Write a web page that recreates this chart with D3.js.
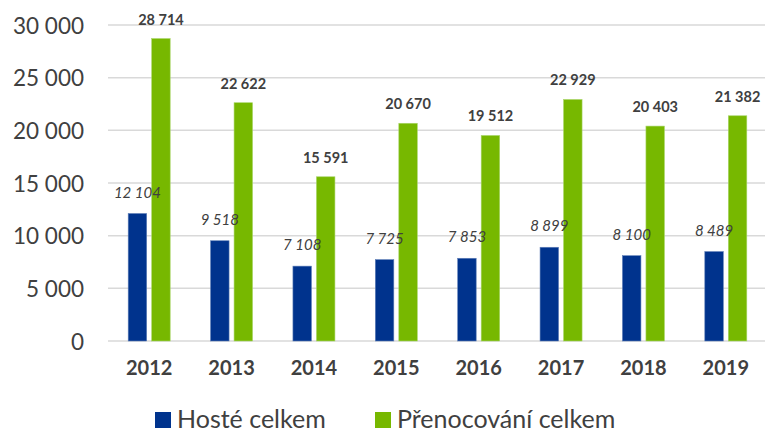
<!DOCTYPE html>
<html><head><meta charset="utf-8">
<script src="https://cdn.jsdelivr.net/npm/d3@7"></script>
<style>
body{margin:0;background:#fff;}
svg{display:block;font-family:Lato, "Open Sans", sans-serif;}
</style></head><body>
<svg id="c" width="765" height="433"></svg>
<script>
const years = ["2012","2013","2014","2015","2016","2017","2018","2019"];
const hoste = [12104, 9518, 7108, 7725, 7853, 8899, 8100, 8489];
const prenoc = [28714, 22622, 15591, 20670, 19512, 22929, 20403, 21382];
const yTicks = [0, 5000, 10000, 15000, 20000, 25000, 30000];
const seriesNames = ["Hosté celkem", "Přenocování celkem"];
const colors = ["#00338d", "#77b800"];

const fmt = v => d3.format(",")(v).replace(/,/g, " ");
const svg = d3.select("#c");
const m = {left:108, right:767, top:25, bottom:341};
const x = d3.scaleBand().domain(years).range([m.left, m.right]).padding(0);
const y = d3.scaleLinear().domain([0, 30000]).range([m.bottom, m.top]);
const textCol = "#404040";

// gridlines
svg.append("g").selectAll("line").data(yTicks).join("line")
  .attr("x1", m.left).attr("x2", 765)
  .attr("y1", d => y(d)).attr("y2", d => y(d))
  .attr("stroke", "#d9d9d9").attr("stroke-width", 1.5);

// y axis labels
const yAxis = d3.axisLeft(y).tickValues(yTicks).tickFormat(fmt).tickSize(0).tickPadding(0);
const ya = svg.append("g").attr("transform", "translate(84,0)").call(yAxis);
ya.select(".domain").remove();
ya.selectAll("text").attr("font-size", 22.5).attr("fill", textCol).attr("font-family", "Lato").attr("dy", "0.36em");

const bw = 18.5, gap = 5;
const data = years.map((yr, i) => ({yr, h: hoste[i], p: prenoc[i]}));
const g = svg.append("g");
g.selectAll("rect.h").data(data).join("rect").attr("class","h")
  .attr("x", d => x(d.yr) + x.bandwidth()/2 - gap/2 - bw)
  .attr("width", bw)
  .attr("y", d => y(d.h)).attr("height", d => y(0) - y(d.h))
  .attr("fill", colors[0]).attr("stroke", "#5f7fb8").attr("stroke-width", 0.6);
g.selectAll("rect.p").data(data).join("rect").attr("class","p")
  .attr("x", d => x(d.yr) + x.bandwidth()/2 + gap/2)
  .attr("width", bw)
  .attr("y", d => y(d.p)).attr("height", d => y(0) - y(d.p))
  .attr("fill", colors[1]).attr("stroke", "#a9d66a").attr("stroke-width", 0.6);

// labels
g.selectAll("text.h").data(data).join("text").attr("class","h")
  .attr("x", d => x(d.yr) + x.bandwidth()/2 - gap/2 - bw/2)
  .attr("y", d => y(d.h) - 16)
  .attr("text-anchor", "middle").attr("font-size", 15).attr("font-style", "italic")
  .attr("fill", textCol).text(d => fmt(d.h));
g.selectAll("text.p").data(data).join("text").attr("class","p")
  .attr("x", d => x(d.yr) + x.bandwidth()/2 + gap/2 + bw/2)
  .attr("y", d => y(d.p) - 14)
  .attr("text-anchor", "middle").attr("font-size", 14.5).attr("font-weight", "bold")
  .attr("fill", textCol).text(d => fmt(d.p));

// x axis
const xAxis = d3.axisBottom(x).tickSize(0).tickPadding(0);
const xa = svg.append("g").attr("transform", `translate(0,${m.bottom})`).call(xAxis);
xa.select(".domain").remove();
xa.selectAll("text").attr("font-size", 20).attr("font-weight", "bold").attr("fill", textCol)
  .attr("font-family", "Lato").attr("dy", 0).attr("y", 34);

// legend
const leg = svg.append("g");
const legX = [155, 375];
seriesNames.forEach((n, i) => {
  leg.append("rect").attr("x", legX[i]).attr("y", 412).attr("width", 16).attr("height", 16).attr("fill", colors[i]);
  leg.append("text").attr("x", legX[i] + 22).attr("y", 428).attr("font-size", 25)
    .attr("fill", textCol).text(n);
});
</script>
</body></html>
